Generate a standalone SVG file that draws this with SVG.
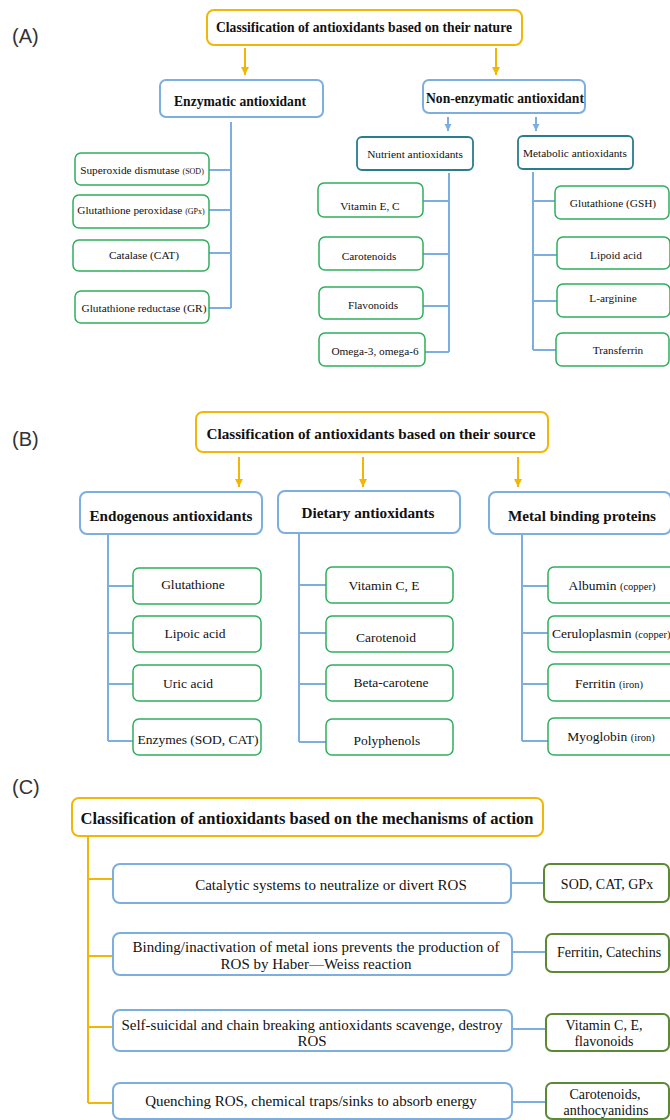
<svg xmlns="http://www.w3.org/2000/svg" width="670" height="1120" viewBox="0 0 670 1120">
<defs>
<style>
.bg{fill:#fff}
.ob{fill:#fff;stroke:#F2B705;stroke-width:2}
.bb{fill:#fff;stroke:#7DAEE0;stroke-width:2}
.gb{fill:#fff;stroke:#2EAF5C;stroke-width:1.5}
.tb{fill:#fff;stroke:#2A7D8E;stroke-width:1.8}
.cg{fill:#fff;stroke:#5A8A34;stroke-width:2}
.oc{fill:none;stroke:#F2B705;stroke-width:2}
.bc{fill:none;stroke:#7DAEE0;stroke-width:2}
.t{font-family:"Liberation Serif","Times New Roman",serif;fill:#111;text-anchor:middle}
.h{font-weight:bold}
.s11{font-size:11.3px}
.s14{font-size:14px}
.s15{font-size:15px}
.sm{font-size:8px}
.lab{font-family:"Liberation Sans",Arial,sans-serif;font-size:20px;fill:#333}
</style>
<marker id="ao" markerUnits="userSpaceOnUse" markerWidth="10" markerHeight="10" refX="8" refY="4" orient="auto"><path d="M0,0 L8,4 L0,8 z" fill="#F2B705"/></marker>
<marker id="ab" markerUnits="userSpaceOnUse" markerWidth="10" markerHeight="10" refX="7" refY="3.5" orient="auto"><path d="M0,0 L7,3.5 L0,7 z" fill="#7DAEE0"/></marker>
</defs>
<rect class="bg" x="0" y="0" width="670" height="1120"/>

<text class="lab" x="12" y="43">(A)</text>
<text class="lab" x="12" y="446">(B)</text>
<text class="lab" x="12" y="794">(C)</text>

<g id="connectors">
<line class="oc" x1="245" y1="48" x2="245" y2="75" marker-end="url(#ao)"/>
<line class="oc" x1="496" y1="48" x2="496" y2="75" marker-end="url(#ao)"/>
<line class="bc" x1="448" y1="117" x2="448" y2="131" marker-end="url(#ab)"/>
<line class="bc" x1="536" y1="117" x2="536" y2="131" marker-end="url(#ab)"/>
<path class="bc" d="M231,122 V308 M209,170 H231 M209,210 H231 M209,253 H231 M209,308 H231"/>
<path class="bc" d="M449,173 V352 M423,201 H449 M423,254 H449 M423,306 H449 M425,352 H449"/>
<path class="bc" d="M533,172 V350 M533,201 H555 M533,255 H557 M533,301 H557 M533,350 H556"/>
<line class="oc" x1="239" y1="457" x2="239" y2="487" marker-end="url(#ao)"/>
<line class="oc" x1="363" y1="457" x2="363" y2="487" marker-end="url(#ao)"/>
<line class="oc" x1="518" y1="457" x2="518" y2="487" marker-end="url(#ao)"/>
<path class="bc" d="M108,535 V741 M108,586 H133 M108,633 H133 M108,684 H133 M108,741 H133"/>
<path class="bc" d="M299,533 V742 M299,585 H326 M299,633 H326 M299,684 H326 M299,742 H326"/>
<path class="bc" d="M522,533 V741 M522,586 H548 M522,633 H548 M522,684 H548 M522,741 H548"/>
<path class="oc" d="M88,836 V1103 M88,879 H113 M88,956 H113 M88,1027 H113 M88,1103 H113"/>
<path class="bc" d="M511,883 H544 M512,952 H546 M512,1029 H546 M512,1102 H546"/>
</g>

<g id="titleA"><rect class="ob" x="207" y="10" width="315" height="35" rx="7"/><text class="t h" x="364" y="32" font-size="15" textLength="296" lengthAdjust="spacingAndGlyphs">Classification of antioxidants based on their nature</text></g>
<g id="enzymatic"><rect class="bb" x="160" y="80" width="163" height="37" rx="6"/><text class="t h" x="240" y="106" font-size="15" textLength="132" lengthAdjust="spacingAndGlyphs">Enzymatic antioxidant</text></g>
<g id="nonenzymatic"><rect class="bb" x="423" y="80" width="162" height="33" rx="6"/><text class="t h" x="505" y="103" font-size="15" textLength="158" lengthAdjust="spacingAndGlyphs">Non-enzymatic antioxidant</text></g>
<g id="nutrient"><rect class="tb" x="357" y="137" width="116" height="33" rx="5"/><text class="t s11" x="415" y="158">Nutrient antioxidants</text></g>
<g id="metabolic"><rect class="tb" x="518" y="136" width="115" height="33" rx="5"/><text class="t s11" x="575" y="157">Metabolic antioxidants</text></g>

<g id="sod"><rect class="gb" x="75" y="153" width="134" height="32" rx="6"/><text class="t s11" x="142" y="174">Superoxide dismutase <tspan class="sm">(SOD)</tspan></text></g>
<g id="gpx"><rect class="gb" x="73" y="195" width="136" height="33" rx="6"/><text class="t s11" x="141" y="214">Glutathione peroxidase <tspan class="sm">(GPx)</tspan></text></g>
<g id="cat"><rect class="gb" x="73" y="240" width="136" height="31" rx="6"/><text class="t s11" x="144" y="259">Catalase (CAT)</text></g>
<g id="gr"><rect class="gb" x="75" y="291" width="134" height="32" rx="6"/><text class="t s11" x="144" y="312">Glutathione reductase (GR)</text></g>

<g id="vitEC"><rect class="gb" x="318" y="183" width="105" height="34" rx="6"/><text class="t s11" x="370" y="210">Vitamin E, C</text></g>
<g id="carotenoids"><rect class="gb" x="319" y="237" width="104" height="33" rx="6"/><text class="t s11" x="369" y="260">Carotenoids</text></g>
<g id="flavonoids"><rect class="gb" x="319" y="287" width="104" height="32" rx="6"/><text class="t s11" x="373" y="309">Flavonoids</text></g>
<g id="omega"><rect class="gb" x="319" y="333" width="106" height="33" rx="6"/><text class="t s11" x="375" y="355">Omega-3, omega-6</text></g>

<g id="gsh"><rect class="gb" x="555" y="186" width="114" height="33" rx="6"/><text class="t s11" x="613" y="207">Glutathione (GSH)</text></g>
<g id="lipoid"><rect class="gb" x="557" y="237" width="113" height="32" rx="6"/><text class="t s11" x="616" y="259">Lipoid acid</text></g>
<g id="larginine"><rect class="gb" x="557" y="284" width="113" height="33" rx="6"/><text class="t s11" x="613" y="302">L-arginine</text></g>
<g id="transferrin"><rect class="gb" x="556" y="333" width="113" height="33" rx="6"/><text class="t s11" x="618" y="354">Transferrin</text></g>

<g id="titleB"><rect class="ob" x="196" y="412" width="352" height="40" rx="7"/><text class="t h" x="371" y="439" font-size="15" textLength="329" lengthAdjust="spacingAndGlyphs">Classification of antioxidants based on their source</text></g>
<g id="endogenous"><rect class="bb" x="80" y="492" width="182" height="42" rx="7"/><text class="t h" x="171" y="521" font-size="15" textLength="163" lengthAdjust="spacingAndGlyphs">Endogenous antioxidants</text></g>
<g id="dietary"><rect class="bb" x="278" y="491" width="182" height="42" rx="7"/><text class="t h" x="368" y="518" font-size="15" textLength="133" lengthAdjust="spacingAndGlyphs">Dietary antioxidants</text></g>
<g id="metal"><rect class="bb" x="489" y="492" width="182" height="42" rx="7"/><text class="t h" x="582" y="521" font-size="15" textLength="148" lengthAdjust="spacingAndGlyphs">Metal binding proteins</text></g>

<g id="glutathione"><rect class="gb" x="133" y="568" width="128" height="36" rx="6"/><text class="t" x="193" y="589" font-size="13.5">Glutathione</text></g>
<g id="lipoic"><rect class="gb" x="133" y="616" width="128" height="36" rx="6"/><text class="t" x="195" y="638" font-size="13.5">Lipoic acid</text></g>
<g id="uric"><rect class="gb" x="133" y="665" width="128" height="36" rx="6"/><text class="t" x="188" y="688" font-size="13.5">Uric acid</text></g>
<g id="enzymes"><rect class="gb" x="133" y="719" width="128" height="36" rx="6"/><text class="t" x="198" y="744" font-size="13.5">Enzymes (SOD, CAT)</text></g>

<g id="vitCE"><rect class="gb" x="326" y="567" width="127" height="36" rx="6"/><text class="t" x="384" y="590" font-size="13.5">Vitamin C, E</text></g>
<g id="carotenoid"><rect class="gb" x="326" y="616" width="127" height="36" rx="6"/><text class="t" x="386" y="642" font-size="13.5">Carotenoid</text></g>
<g id="betacarotene"><rect class="gb" x="326" y="665" width="127" height="36" rx="6"/><text class="t" x="391" y="687" font-size="13.5">Beta-carotene</text></g>
<g id="polyphenols"><rect class="gb" x="326" y="719" width="127" height="36" rx="6"/><text class="t" x="387" y="745" font-size="13.5">Polyphenols</text></g>

<g id="albumin"><rect class="gb" x="548" y="567" width="130" height="36" rx="6"/><text class="t" x="612" y="590" font-size="13.5">Albumin <tspan font-size="10.5">(copper)</tspan></text></g>
<g id="ceruloplasmin"><rect class="gb" x="548" y="616" width="130" height="36" rx="6"/><text class="t" x="552" y="638" font-size="13.5" style="text-anchor:start">Ceruloplasmin <tspan font-size="10.5">(copper)</tspan></text></g>
<g id="ferritin"><rect class="gb" x="548" y="664" width="130" height="37" rx="6"/><text class="t" x="609" y="688" font-size="13.5">Ferritin <tspan font-size="10.5">(iron)</tspan></text></g>
<g id="myoglobin"><rect class="gb" x="548" y="718" width="130" height="37" rx="6"/><text class="t" x="611" y="741" font-size="13.5">Myoglobin <tspan font-size="10.5">(iron)</tspan></text></g>

<g id="titleC"><rect class="ob" x="72" y="798" width="471" height="38" rx="7"/><text class="t h" x="307" y="824" font-size="16.5" textLength="453" lengthAdjust="spacingAndGlyphs">Classification of antioxidants based on the mechanisms of action</text></g>

<g id="catalytic"><rect class="bb" x="113" y="864" width="398" height="39" rx="7"/><text class="t s15" x="331" y="890">Catalytic systems to neutralize or divert ROS</text></g>
<g id="sodcatgpx"><rect class="cg" x="544" y="864" width="125" height="38" rx="6"/><text class="t s14" x="607" y="889">SOD, CAT, GPx</text></g>

<g id="binding"><rect class="bb" x="113" y="933" width="399" height="42" rx="7"/><text class="t s15" x="316" y="952">Binding/inactivation of metal ions prevents the production of</text><text class="t s15" x="316" y="969">ROS by Haber—Weiss reaction</text></g>
<g id="ferritinCat"><rect class="cg" x="546" y="934" width="123" height="38" rx="6"/><text class="t s14" x="609" y="957">Ferritin, Catechins</text></g>

<g id="selfsuicidal"><rect class="bb" x="113" y="1010" width="399" height="41" rx="7"/><text class="t s15" x="312" y="1030">Self-suicidal and chain breaking antioxidants scavenge, destroy</text><text class="t s15" x="312" y="1046">ROS</text></g>
<g id="vitCEflav"><rect class="cg" x="546" y="1014" width="123" height="37" rx="6"/><text class="t s14" x="604" y="1030">Vitamin C, E,</text><text class="t s14" x="604" y="1046">flavonoids</text></g>

<g id="quenching"><rect class="bb" x="113" y="1083" width="399" height="36" rx="7"/><text class="t s15" x="311" y="1106">Quenching ROS, chemical traps/sinks to absorb energy</text></g>
<g id="carotAnth"><rect class="cg" x="546" y="1083" width="123" height="36" rx="6"/><text class="t s14" x="605" y="1099">Carotenoids,</text><text class="t s14" x="606" y="1115">anthocyanidins</text></g>
</svg>
